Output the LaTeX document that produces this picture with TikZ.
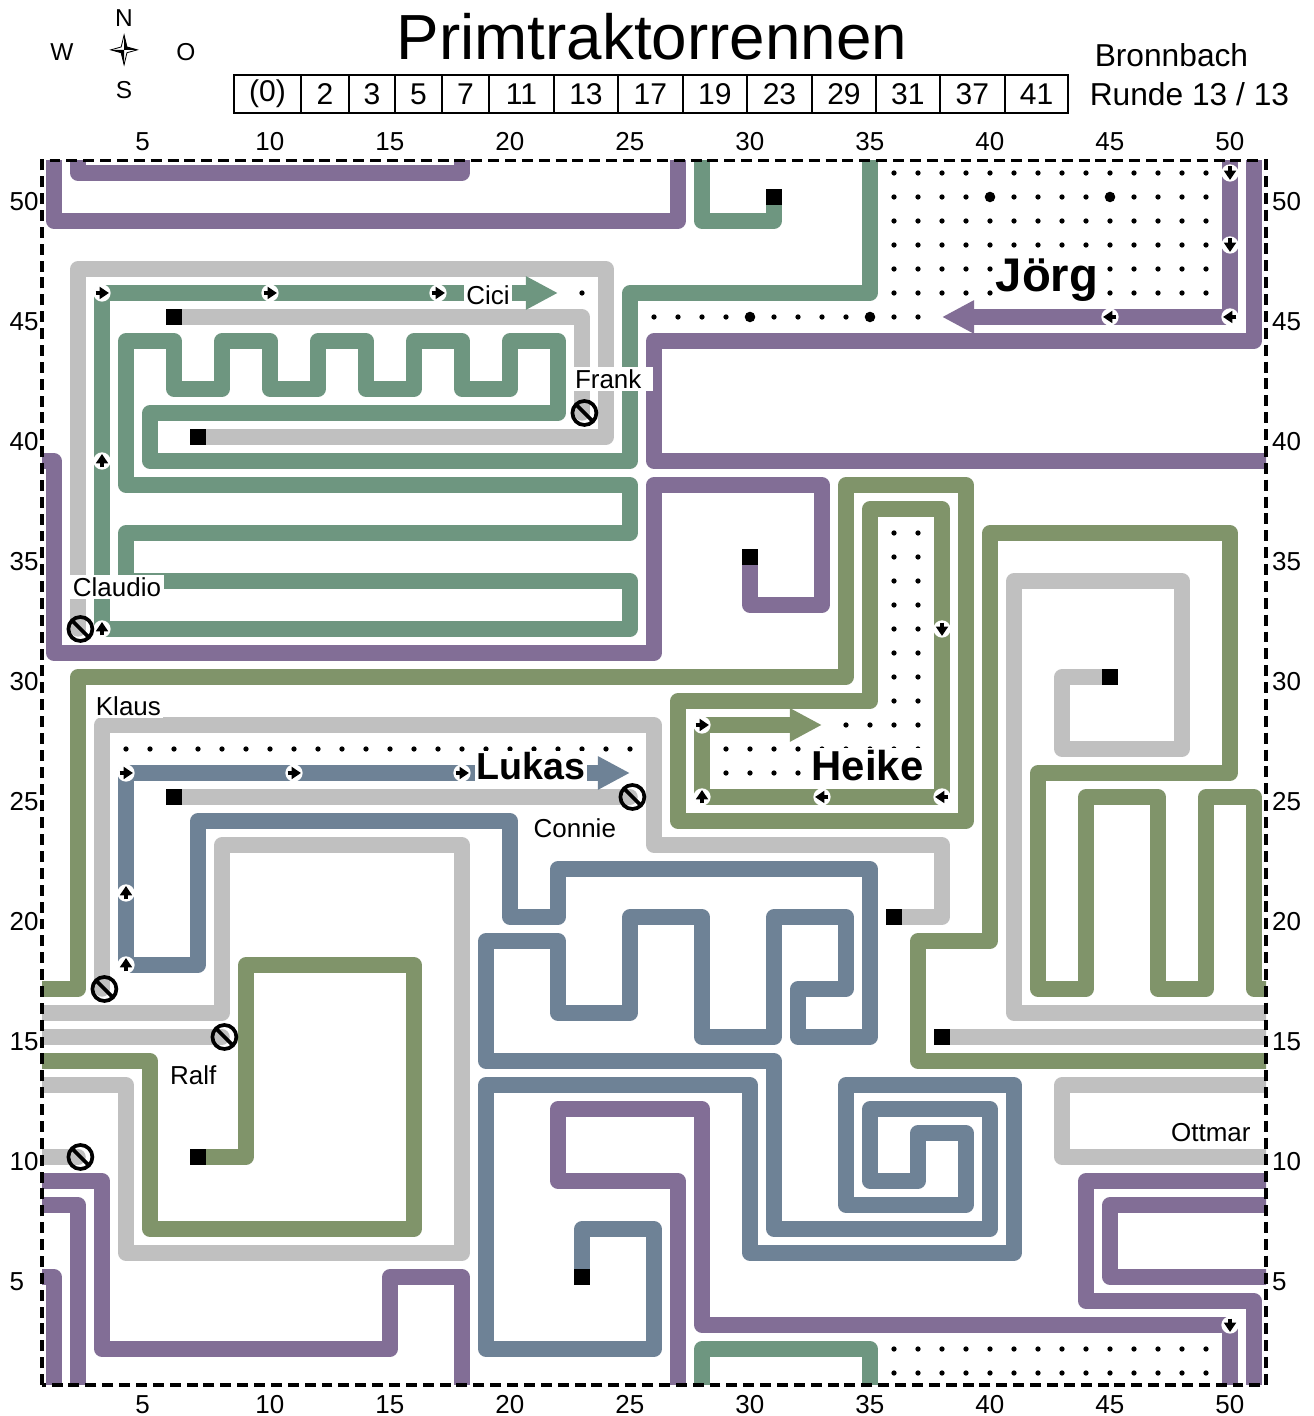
\documentclass[tikz,border=0pt]{standalone}
\usepackage{fontspec}
\setmainfont{Liberation Sans}
\usepackage{xcolor}
\definecolor{jorgpurple}{RGB}{130,110,150}
\definecolor{cicigreen}{RGB}{110,150,128}
\definecolor{heikeolive}{RGB}{128,148,106}
\definecolor{lukasblue}{RGB}{110,130,150}
\definecolor{crashgray}{RGB}{192,192,192}
\usepackage{tikz}
\usetikzlibrary{arrows.meta,positioning}
\tikzset{
  >={Triangle[length=19pt,width=18.5pt]},
  track/.style={line width=9.2pt,line cap=round,line join=round},
  jorg/.style={track,draw=jorgpurple},
  cici/.style={track,draw=cicigreen},
  heike/.style={track,draw=heikeolive},
  lukas/.style={track,draw=lukasblue},
  crashed/.style={track,draw=crashgray},
  home/.style={rectangle,fill=black,minimum size=10pt,inner sep=0pt},
  player/.style={fill=white,inner sep=1.5pt,font=\fontsize{15.4}{18}\selectfont},
  leader/.style={fill=white,inner sep=1pt,font=\bfseries\fontsize{23.5}{28}\selectfont},
  ticklbl/.style={anchor=west,inner sep=0pt,font=\fontsize{15.4}{18}\selectfont},
  primenum/.style={inner sep=0pt,font=\fontsize{17.8}{20}\selectfont},
  compass/.style={inner sep=0pt,font=\fontsize{14.5}{17}\selectfont},
  place/.style={anchor=base,inner sep=0pt,font=\fontsize{18.8}{22}\selectfont},
  stop/.style={draw=black,line width=2.2pt},
  board/.style={draw=black,line width=1.8pt,dash pattern=on 6.5pt off 3.5pt}
}
% small move marker: x, y, direction
\newcommand{\hop}[3]{%
  \fill[white] (#1,#2) circle (0.36);
  \draw[shift={(#1,#2)},rotate=#3,line width=2pt,-{Triangle[length=5.5pt,width=7pt]}] (-0.27,0) -- (0.29,0);}
% crash sign
\newcommand{\crashat}[2]{\draw[stop] (#1+0.1,#2) circle (0.5) ++(135:0.5) -- ++(-45:1);}

\begin{document}
\begin{tikzpicture}[x=0.5cm,y=0.5cm]
  \useasboundingbox (-1.25,-0.792) rectangle (53.5,58.208);

  % Heading
  \node[font=\fontsize{37.8}{44}\selectfont,anchor=base,inner sep=0pt] (title) at (25.92,55.71) {Primtraktorrennen};
  \foreach \a/\b/\p [count=\i] in {8.5/11.29/{(0)},11.29/13.29/2,13.29/15.21/3,15.21/17.17/5,17.17/19.125/7,19.125/21.83/11,21.83/24.5/13,24.5/27.2/17,27.2/29.875/19,29.875/32.58/23,32.58/35.25/29,35.25/37.9/31,37.9/40.625/37,40.625/43.25/41}{
    \draw[line width=1.2pt] (\a,53.5) rectangle (\b,55.08);
    \node[primenum] (prime\i) at ({(\a+\b)/2},54.29) {\p};
  }
  \node[place] (town) at (47.56,55.42) {Bronnbach};
  \node[place] (round) at (48.31,53.83) {Runde 13 / 13};

  % Compass
  \node[compass] (north) at (3.92,57.46) {N};
  \node[compass] (south) at (3.92,54.46) {S};
  \node[compass] (west) at (1.33,56.04) {W};
  \node[compass] (east) at (6.5,56.04) {O};
  \begin{scope}[shift={(3.92,56.13)}]
    \draw[line width=0.5pt,fill=white] (0,0.62) -- (0.12,0.12) -- (0.55,0) -- (0.12,-0.12) -- (0,-0.62) -- (-0.12,-0.12) -- (-0.55,0) -- (-0.12,0.12) -- cycle;
    \fill (0,0) -- (0,0.62) -- (0.12,0.12) -- (0.55,0) -- cycle;
    \fill (0,0) -- (0,-0.62) -- (-0.12,-0.12) -- (-0.55,0) -- cycle;
  \end{scope}

  % Axis numbers
  \foreach \n in {5,10,...,50}{
    \node[ticklbl] (top\n) at (\n-0.625,52.29) {\n};
    \node[ticklbl] (bot\n) at (\n-0.625,-0.3) {\n};
    \node[ticklbl] (lft\n) at (-0.86,\n-0.2) {\n};
    \node[ticklbl] (rgt\n) at (51.74,\n-0.2) {\n};
  }

  \begin{scope}
    \clip (0.5,0.5) rectangle (51.5,51.5);
    % Crashed tractors
    \draw[crashed] (7,40) -- (24,40) -- (24,47) -- (2,47) -- (2,32);
    \draw[crashed] (6,45) -- (23,45) -- (23,41);
    \draw[crashed] (36,20) -- (38,20) -- (38,23) -- (26,23) -- (26,28) -- (3,28) -- (3,17);
    \draw[crashed] (6,25) -- (25,25);
    \draw[crashed] (38,15) -- (52,15);
    \draw[crashed] (0,15) -- (8,15);
    \draw[crashed] (45,30) -- (43,30) -- (43,27) -- (48,27) -- (48,34) -- (41,34) -- (41,16) -- (52,16);
    \draw[crashed] (0,16) -- (8,16) -- (8,23) -- (18,23) -- (18,6) -- (4,6) -- (4,13) -- (0,13);
    \draw[crashed] (52,13) -- (43,13) -- (43,10) -- (52,10);
    \draw[crashed] (0,10) -- (2,10);

    % Joerg
    \draw[jorg] (1,52) -- (1,49) -- (27,49) -- (27,52);
    \draw[jorg] (2,52) -- (2,51) -- (18,51) -- (18,52);
    \draw[jorg] (51,52) -- (51,44) -- (26,44) -- (26,39) -- (52,39);
    \draw[jorg] (0,39) -- (1,39) -- (1,31) -- (26,31) -- (26,38) -- (33,38) -- (33,33) -- (30,33) -- (30,35);
    \draw[jorg] (52,9) -- (44,9) -- (44,4) -- (51,4) -- (51,0);
    \draw[jorg] (52,8) -- (45,8) -- (45,5) -- (52,5);
    \draw[jorg] (0,9) -- (3,9) -- (3,2) -- (15,2) -- (15,5) -- (18,5) -- (18,0);
    \draw[jorg] (0,8) -- (2,8) -- (2,0);
    \draw[jorg] (0,5) -- (1,5) -- (1,0);
    \draw[jorg] (27,0) -- (27,9) -- (22,9) -- (22,12) -- (28,12) -- (28,3) -- (50,3) -- (50,0);
    \draw[jorg,->] (50,52) -- (50,45) -- (38,45);

    % Cici
    \draw[cici] (31,50) -- (31,49) -- (28,49) -- (28,52);
    \draw[cici] (28,0) -- (28,2) -- (35,2) -- (35,0);
    \draw[cici,->] (35,52) -- (35,46) -- (25,46) -- (25,39) -- (5,39) -- (5,41) -- (22,41) -- (22,44) -- (20,44) -- (20,42) -- (18,42) -- (18,44) -- (16,44) -- (16,42) -- (14,42) -- (14,44) -- (12,44) -- (12,42) -- (10,42) -- (10,44) -- (8,44) -- (8,42) -- (6,42) -- (6,44) -- (4,44) -- (4,38) -- (25,38) -- (25,36) -- (4,36) -- (4,34) -- (25,34) -- (25,32) -- (3,32) -- (3,46) -- (22,46);

    % Lukas
    \draw[lukas,->] (23,5) -- (23,7) -- (26,7) -- (26,2) -- (19,2) -- (19,13) -- (30,13) -- (30,6) -- (41,6) -- (41,13) -- (34,13) -- (34,8) -- (39,8) -- (39,11) -- (37,11) -- (37,9) -- (35,9) -- (35,12) -- (40,12) -- (40,7) -- (31,7) -- (31,14) -- (19,14) -- (19,19) -- (22,19) -- (22,16) -- (25,16) -- (25,20) -- (28,20) -- (28,15) -- (31,15) -- (31,20) -- (34,20) -- (34,17) -- (32,17) -- (32,15) -- (35,15) -- (35,22) -- (22,22) -- (22,20) -- (20,20) -- (20,24) -- (7,24) -- (7,18) -- (4,18) -- (4,26) -- (25,26);

    % Heike
    \draw[heike] (7,10) -- (9,10) -- (9,18) -- (16,18) -- (16,7) -- (5,7) -- (5,14) -- (0,14);
    \draw[heike] (52,14) -- (37,14) -- (37,19) -- (40,19) -- (40,36) -- (50,36) -- (50,26) -- (42,26) -- (42,17) -- (44,17) -- (44,25) -- (47,25) -- (47,17) -- (49,17) -- (49,25) -- (51,25) -- (51,17) -- (52,17);
    \draw[heike,->] (0,17) -- (2,17) -- (2,30) -- (34,30) -- (34,38) -- (39,38) -- (39,24) -- (27,24) -- (27,29) -- (35,29) -- (35,37) -- (38,37) -- (38,25) -- (28,25) -- (28,28) -- (33,28);
  \end{scope}

  % Reachable fields
  \foreach \x in {36,...,49}{
    \foreach \y in {1,2,46,47,48,49,50,51} \fill (\x,\y) circle (0.11);
  }
  \foreach \x in {26,...,37} \fill (\x,45) circle (0.11);
  \foreach \x/\y in {40/50,45/50,30/45,35/45} \fill (\x,\y) circle (0.22);
  \fill (23,46) circle (0.11);
  \foreach \x in {4,...,25} \fill (\x,27) circle (0.11);
  \foreach \x in {29,...,37} {\fill (\x,26) circle (0.11); \fill (\x,27) circle (0.11);}
  \foreach \x in {34,...,37} \fill (\x,28) circle (0.11);
  \foreach \y in {29,...,36} {\fill (36,\y) circle (0.11); \fill (37,\y) circle (0.11);}

  % Last moves
  \hop{3}{32}{90} \hop{3}{39}{90} \hop{3}{46}{0} \hop{10}{46}{0} \hop{17}{46}{0}
  \hop{50}{3}{-90} \hop{50}{51}{-90} \hop{50}{48}{-90} \hop{50}{45}{180} \hop{45}{45}{180}
  \hop{4}{18}{90} \hop{4}{21}{90} \hop{4}{26}{0} \hop{11}{26}{0} \hop{18}{26}{0}
  \hop{38}{32}{-90} \hop{38}{25}{180} \hop{33}{25}{180} \hop{28}{25}{90} \hop{28}{28}{0}

  % Start fields
  \node[home] (h-cici) at (31,50) {};
  \node[home] (h-frank) at (6,45) {};
  \node[home] (h-claudio) at (7,40) {};
  \node[home] (h-jorg) at (30,35) {};
  \node[home] (h-ottmar) at (45,30) {};
  \node[home] (h-connie) at (6,25) {};
  \node[home] (h-klaus) at (36,20) {};
  \node[home] (h-ralf) at (38,15) {};
  \node[home] (h-heike) at (7,10) {};
  \node[home] (h-lukas) at (23,5) {};

  % Crashes
  \crashat{2}{32} \crashat{23}{41} \crashat{25}{25}
  \crashat{3}{17} \crashat{8}{15} \crashat{2}{10}

  % Names
  \node[player] (cici) at (19.08,45.9) {Cici};
  \node[player,text width=45pt,align=left] (frank) at (24.29,42.4) {Frank};
  \node[player] (claudio) at (3.625,33.75) {Claudio};
  \node[player] (klaus) at (4.1,28.8) {Klaus};
  \node[player] (connie) at (22.7,23.7) {Connie};
  \node[player] (ralf) at (6.8,13.4) {Ralf};
  \node[player] (ottmar) at (49.2,11.0) {Ottmar};
  \node[leader,font=\bfseries\fontsize{28}{32}\selectfont] (jorg) at (42.375,46.54) {Jörg};
  \node[leader,font=\bfseries\fontsize{22.3}{26}\selectfont] (lukas) at (20.875,26.29) {Lukas};
  \node[leader,font=\bfseries\fontsize{24.8}{28}\selectfont] (heike) at (34.9,26.33) {Heike};

  % Board
  \draw[board] (0.5,0.5) rectangle (51.5,51.5);
\end{tikzpicture}
\end{document}
